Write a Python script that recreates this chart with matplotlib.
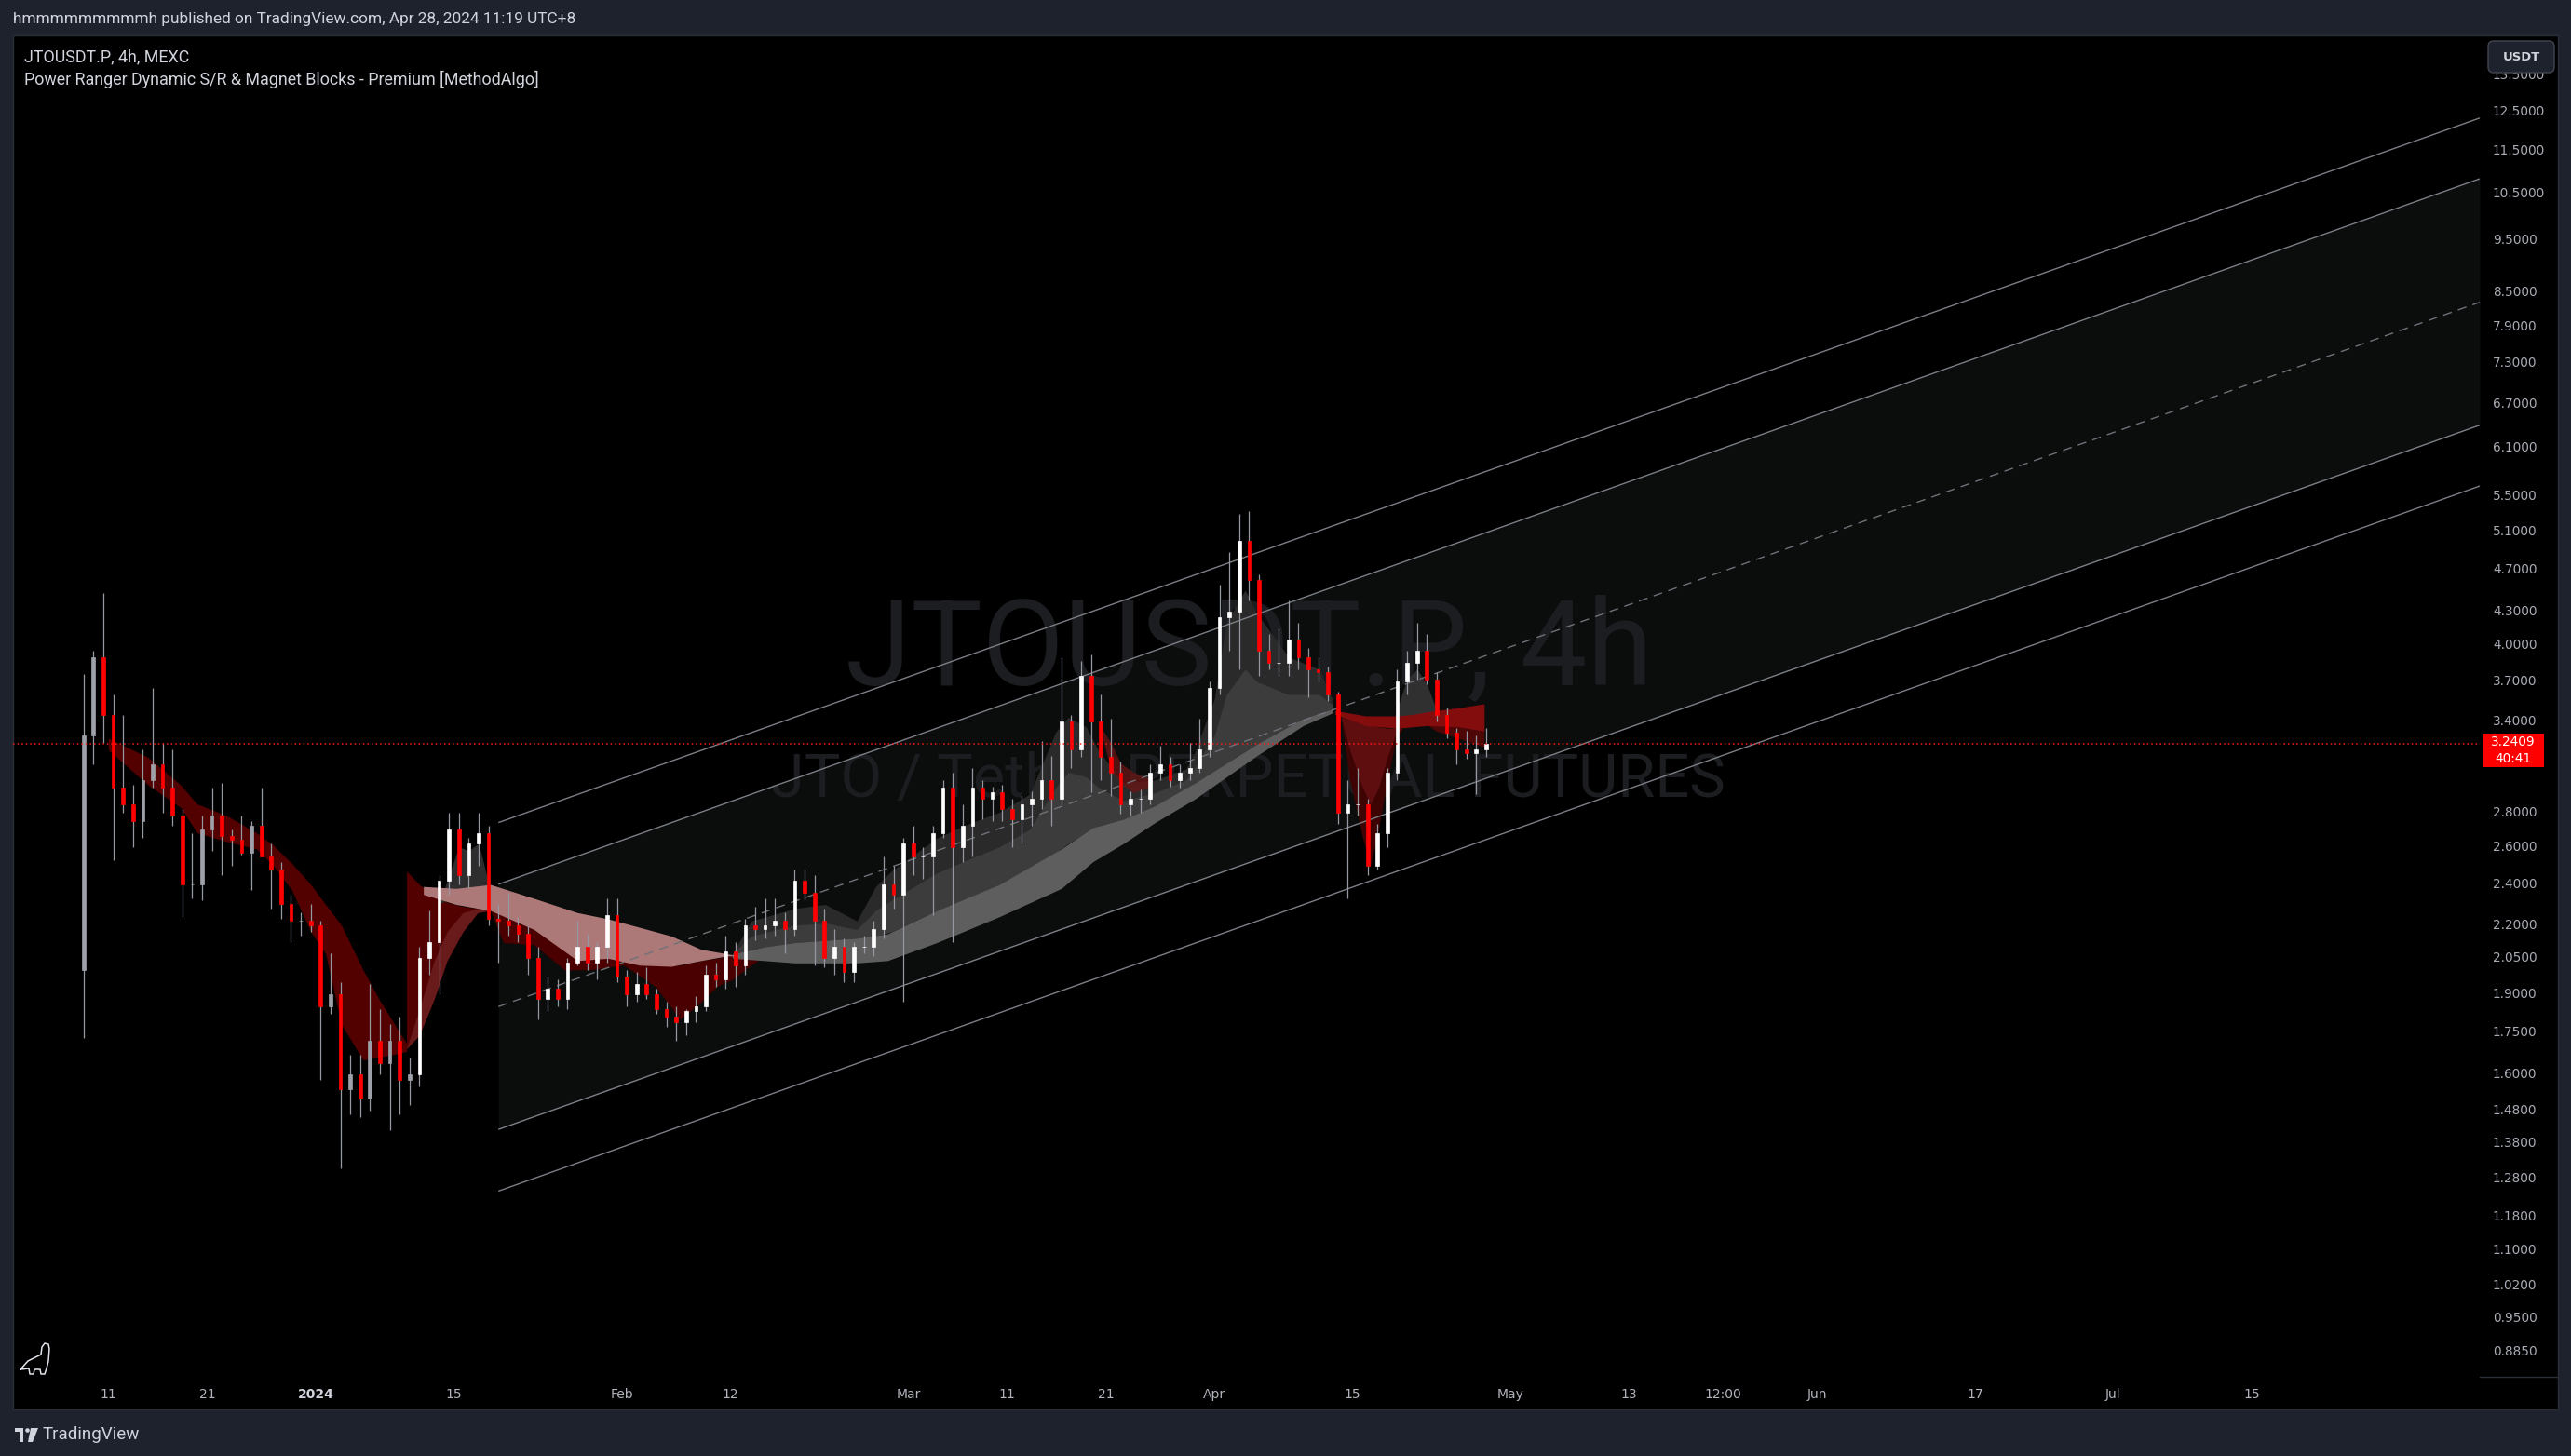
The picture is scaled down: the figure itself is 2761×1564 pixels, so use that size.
import numpy as np
import pandas as pd
import matplotlib
matplotlib.use("Agg")
import matplotlib.pyplot as plt
import matplotlib.transforms as mtransforms
from matplotlib.patches import Rectangle, FancyBboxPatch, Circle, Polygon
from matplotlib.lines import Line2D

W, H = 2761, 1564
BASE = pd.Timestamp("2024-01-01")

# ---- daily candles, first day 2023-12-08 ----
start_date = "2023-12-08"
opens = [2.00, 3.30, 3.90, 3.45, 2.95, 2.85, 2.75,
         3.00, 3.10, 2.95, 2.78, 2.40, 2.40, 2.70,
         2.78, 2.66, 2.64, 2.57, 2.72, 2.55, 2.48,
         2.30, 2.22, 2.22, 2.20, 1.85, 1.90, 1.55,
         1.60, 1.52, 1.72, 1.64, 1.72, 1.58, 1.60,
         2.05, 2.12, 2.42, 2.70, 2.45, 2.62, 2.68,
         2.23, 2.22, 2.20, 2.16, 2.05, 1.88, 1.92,
         1.88, 2.03, 2.10, 2.03, 2.10, 2.25, 1.97,
         1.90, 1.94, 1.90, 1.84, 1.81, 1.79, 1.83,
         1.85, 1.98, 1.96, 2.08, 2.02, 2.20, 2.18,
         2.20, 2.22, 2.18, 2.42, 2.36, 2.22, 2.05,
         2.10, 1.99, 2.10, 2.10, 2.18, 2.40, 2.35,
         2.62, 2.55, 2.55, 2.68, 2.95, 2.60, 2.72,
         2.95, 2.88, 2.92, 2.82, 2.76, 2.85, 2.88,
         3.00, 2.88, 3.40, 3.20, 3.75, 3.40, 3.15,
         3.05, 2.85, 2.88, 2.88, 3.05, 3.10, 3.00,
         3.05, 3.08, 3.20, 3.65, 4.25, 4.30, 5.00,
         4.60, 3.95, 3.85, 3.85, 4.05, 3.90, 3.80,
         3.78, 3.60, 2.80, 2.85, 2.85, 2.50, 2.68,
         3.05, 3.70, 3.85, 3.95, 3.72, 3.45, 3.32,
         3.20, 3.18, 3.20]
highs = [3.76, 3.95, 4.47, 3.60, 3.45, 2.97, 3.20,
         3.65, 3.25, 3.20, 2.82, 2.68, 2.78, 2.95,
         2.98, 2.70, 2.78, 2.75, 2.95, 2.62, 2.52,
         2.35, 2.26, 2.30, 2.22, 2.07, 1.95, 1.67,
         1.67, 1.94, 1.84, 1.78, 1.81, 1.66, 2.10,
         2.27, 2.45, 2.80, 2.80, 2.65, 2.80, 2.72,
         2.30, 2.36, 2.24, 2.20, 2.10, 1.97, 1.96,
         2.05, 2.22, 2.16, 2.12, 2.33, 2.33, 2.00,
         1.99, 2.01, 1.92, 1.87, 1.85, 1.84, 1.89,
         2.02, 2.03, 2.15, 2.12, 2.23, 2.29, 2.33,
         2.33, 2.26, 2.48, 2.48, 2.45, 2.28, 2.18,
         2.14, 2.12, 2.15, 2.22, 2.55, 2.50, 2.65,
         2.72, 2.60, 2.72, 3.00, 3.05, 2.85, 3.08,
         3.00, 2.96, 2.97, 2.88, 2.90, 2.93, 3.26,
         3.16, 3.90, 3.45, 3.87, 3.92, 3.60, 3.42,
         3.12, 2.93, 2.94, 3.10, 3.23, 3.15, 3.10,
         3.25, 3.42, 3.70, 4.55, 4.88, 5.30, 5.33,
         4.65, 4.10, 4.15, 4.40, 4.20, 3.98, 3.90,
         3.82, 3.62, 3.00, 3.08, 2.88, 2.73, 3.08,
         3.80, 3.95, 4.20, 4.10, 3.78, 3.50, 3.35,
         3.33, 3.30, 3.35]
lows = [1.73, 3.10, 3.25, 2.53, 2.80, 2.60, 2.65,
        2.95, 2.80, 2.72, 2.24, 2.33, 2.32, 2.58,
        2.45, 2.50, 2.56, 2.37, 2.56, 2.28, 2.23,
        2.12, 2.15, 2.17, 1.58, 1.82, 1.31, 1.47,
        1.46, 1.48, 1.60, 1.42, 1.47, 1.50, 1.56,
        1.98, 1.90, 2.35, 2.40, 2.38, 2.50, 2.20,
        2.03, 2.15, 2.12, 1.98, 1.80, 1.83, 1.85,
        1.84, 2.02, 2.00, 1.96, 2.03, 1.95, 1.85,
        1.87, 1.88, 1.82, 1.77, 1.72, 1.74, 1.79,
        1.83, 1.93, 1.92, 1.93, 1.98, 2.13, 2.14,
        2.15, 2.07, 2.15, 2.32, 2.02, 2.01, 1.98,
        1.95, 1.95, 2.07, 2.06, 2.14, 2.28, 1.87,
        2.45, 2.43, 2.25, 2.65, 2.12, 2.52, 2.55,
        2.76, 2.75, 2.75, 2.60, 2.62, 2.72, 2.82,
        2.72, 2.85, 3.08, 3.15, 2.92, 3.00, 2.90,
        2.79, 2.78, 2.80, 2.85, 3.00, 2.96, 2.95,
        3.00, 3.05, 3.15, 3.60, 3.95, 3.80, 4.40,
        3.75, 3.80, 3.75, 3.75, 3.80, 3.58, 3.70,
        3.55, 2.73, 2.33, 2.78, 2.45, 2.48, 2.60,
        3.00, 3.60, 3.72, 3.68, 3.40, 3.28, 3.10,
        3.14, 2.91, 3.15]
closes = [3.30, 3.90, 3.45, 2.95, 2.85, 2.75, 3.00,
          3.10, 2.95, 2.78, 2.40, 2.40, 2.70, 2.78,
          2.66, 2.64, 2.57, 2.72, 2.55, 2.48, 2.30,
          2.22, 2.22, 2.20, 1.85, 1.90, 1.55, 1.60,
          1.52, 1.72, 1.64, 1.72, 1.58, 1.60, 2.05,
          2.12, 2.42, 2.70, 2.45, 2.62, 2.68, 2.23,
          2.22, 2.20, 2.16, 2.05, 1.88, 1.92, 1.88,
          2.03, 2.10, 2.03, 2.10, 2.25, 1.97, 1.90,
          1.94, 1.90, 1.84, 1.81, 1.79, 1.83, 1.85,
          1.98, 1.96, 2.08, 2.02, 2.20, 2.18, 2.20,
          2.22, 2.18, 2.42, 2.36, 2.22, 2.05, 2.10,
          1.99, 2.10, 2.10, 2.18, 2.40, 2.35, 2.62,
          2.55, 2.55, 2.68, 2.95, 2.60, 2.72, 2.95,
          2.88, 2.92, 2.82, 2.76, 2.85, 2.88, 3.00,
          2.88, 3.40, 3.20, 3.75, 3.40, 3.15, 3.05,
          2.85, 2.88, 2.88, 3.05, 3.10, 3.00, 3.05,
          3.08, 3.20, 3.65, 4.25, 4.30, 5.00, 4.60,
          3.95, 3.85, 3.85, 4.05, 3.90, 3.80, 3.78,
          3.60, 2.80, 2.85, 2.85, 2.50, 2.68, 3.05,
          3.70, 3.85, 3.95, 3.72, 3.45, 3.32, 3.20,
          3.18, 3.20, 3.2409]
last_price = 3.2409
countdown = "40:41"
bright_from = 9.5  # up candles drawn white from Jan 10 on, grey before

# time axis
time_dates = ["2023-12-11", "2023-12-21", "2024-01-01", "2024-01-15", "2024-02-01",
              "2024-02-12", "2024-03-01", "2024-03-11", "2024-03-21", "2024-04-01",
              "2024-04-15", "2024-05-01", "2024-05-13", "2024-05-22 12:00", "2024-06-01",
              "2024-06-17", "2024-07-01", "2024-07-15"]
time_labels = ["11", "21", "2024", "15", "Feb", "12", "Mar", "11", "21", "Apr",
               "15", "May", "13", "12:00", "Jun", "17", "Jul", "15"]

# price axis (3.1000 sits under the red price tag, so it is left out)
price_ticks = [0.885, 0.95, 1.02, 1.10, 1.18, 1.28, 1.38, 1.48, 1.60, 1.75, 1.90,
               2.05, 2.20, 2.40, 2.60, 2.80, 3.40, 3.70, 4.00, 4.30, 4.70,
               5.10, 5.50, 6.10, 6.70, 7.30, 7.90, 8.50, 9.50, 10.50, 11.50, 12.50, 13.50]

# regression channel (straight in log space), days from 2024-01-01
chan_x = [18.5, 219.1]
chan_top = [2.739, 12.33]
chan_upper = [2.401, 10.83]
chan_mid = [1.849, 8.32]
chan_lower = [1.4225, 6.40]
chan_bottom = [1.247, 5.62]

# magnet ribbons (days from 2024-01-01, upper / lower price)
ribA_x = [-21, -17, -13.7, -12, -9, -6, -4.3, -2.4, -0.5, 1, 2.6, 4.8, 6.4, 8, 9.2]
ribA_hi = [3.28, 3.15, 2.97, 2.85, 2.78, 2.68, 2.61, 2.51, 2.40, 2.30, 2.20, 2.00, 1.88, 1.78, 1.71]
ribA_lo = [3.20, 2.97, 2.83, 2.68, 2.63, 2.59, 2.50, 2.37, 2.17, 2.07, 1.78, 1.65, 1.66, 1.67, 1.68]

ribB_x = [9.2, 10.5, 12.0, 13.3, 14.9, 16.4, 17.7]
ribB_hi = [2.47, 2.40, 2.34, 2.31, 2.29, 2.28, 2.27]
ribB_lo = [1.69, 1.74, 1.88, 2.04, 2.17, 2.26, 2.27]
ribB_in = [1.69, 1.84, 2.04, 2.17, 2.26, 2.28, 2.27]

pink_x = [10.9, 14.2, 17.7, 22.1, 26.5, 29.6, 32.8, 36.0, 39.0, 41.6, 43.0]
pink_hi = [2.39, 2.38, 2.40, 2.33, 2.26, 2.23, 2.19, 2.15, 2.09, 2.07, 2.06]
pink_lo = [2.35, 2.30, 2.27, 2.18, 2.04, 2.05, 2.02, 2.015, 2.04, 2.06, 2.06]

ribC_x = [17.7, 19, 22.1, 25.2, 27.8, 31.2, 34.4, 36.9, 39.1, 40.6, 42.2, 44.1, 46.3]
ribC_hi = [2.27, 2.25, 2.18, 2.10, 2.05, 2.05, 2.02, 2.02, 2.04, 2.05, 2.06, 2.07, 2.09]
ribC_lo = [2.27, 2.12, 2.11, 2.00, 2.00, 2.02, 1.93, 1.80, 1.87, 1.93, 1.96, 2.02, 2.09]

greyJ_x = [12.5, 13.5, 14.5, 15.5, 16.5, 17.3, 17.7]
greyJ_hi = [2.30, 2.45, 2.60, 2.58, 2.62, 2.45, 2.30]
greyJ_lo = [2.30, 2.33, 2.32, 2.30, 2.29, 2.28, 2.28]

grey_x = [42.2, 45.4, 48.5, 51.6, 54.8, 57.9, 62.9, 69.2, 75.5, 78.7, 81.8, 85.0, 89.0, 95.3, 100.0, 102.9]
grey_hi = [2.07, 2.10, 2.12, 2.13, 2.14, 2.16, 2.27, 2.40, 2.59, 2.71, 2.76, 2.84, 2.98, 3.24, 3.42, 3.49]
grey_lo = [2.05, 2.04, 2.03, 2.03, 2.03, 2.04, 2.12, 2.24, 2.38, 2.52, 2.62, 2.74, 2.88, 3.16, 3.37, 3.46]

dg_x = [42.2, 44.1, 48.5, 51.6, 54.8, 56.7, 58.3, 62.9, 66.0, 69.2, 72.3, 74.9, 76.2,
        78.0, 79.3, 81.8, 85.0, 88.1, 89.0, 91.0, 92.2, 94.1, 95.3, 98.5, 101.6, 103.0]
dg_hi = [2.07, 2.22, 2.28, 2.30, 2.22, 2.39, 2.47, 2.65, 2.73, 2.80, 2.91, 3.32, 3.43,
         3.36, 3.19, 2.98, 3.00, 3.07, 3.18, 3.57, 4.20, 4.50, 4.28, 3.90, 3.80, 3.55]
dg_mid = [2.07, 2.15, 2.20, 2.21, 2.18, 2.27, 2.32, 2.46, 2.53, 2.60, 2.70, 2.95, 3.05,
          3.02, 2.95, 2.87, 2.92, 3.00, 3.08, 3.30, 3.60, 3.80, 3.70, 3.60, 3.60, 3.52]
dg_lo = [2.07, 2.09, 2.12, 2.13, 2.14, 2.15, 2.17, 2.27, 2.33, 2.40, 2.49, 2.57, 2.62,
         2.68, 2.72, 2.76, 2.84, 2.94, 2.98, 3.06, 3.11, 3.19, 3.24, 3.36, 3.45, 3.49]

redE_x = [79.3, 80.5, 81.5, 82.8, 84.3]
redE_hi = [3.38, 3.25, 3.11, 3.05, 3.01]
redE_lo = [3.38, 3.07, 2.98, 2.92, 2.95]

band_x = [103.2, 106.3, 109.5, 111.0, 112.6, 115.7, 118.3]
band_hi = [3.48, 3.44, 3.44, 3.45, 3.47, 3.50, 3.53]
band_lo = [3.45, 3.37, 3.35, 3.36, 3.37, 3.36, 3.33]

vee_x = [103.8, 104.7, 106.0, 106.8, 107.6, 108.5, 109.3, 110.0]
vee_hi = [3.43, 3.41, 3.38, 3.37, 3.36, 3.35, 3.35, 3.35]
vee_lo = [3.43, 3.00, 2.65, 2.50, 2.70, 3.00, 3.25, 3.35]
vee_in = [3.43, 3.20, 2.95, 2.85, 2.95, 3.15, 3.30, 3.35]

tail_x = [112.6, 113.5, 115.7, 118.3]
tail_hi = [3.37, 3.37, 3.36, 3.33]
tail_lo = [3.37, 3.33, 3.28, 3.22]

greyA_x = [109.3, 110.5, 111.5, 112.5, 113.5]
greyA_hi = [3.45, 3.72, 3.80, 3.68, 3.48]
greyA_lo = [3.44, 3.44, 3.45, 3.46, 3.47]

# ---------------- figure ----------------
fig = plt.figure(figsize=(W / 100, H / 100), dpi=100)
fig.patch.set_facecolor("#1e222d")
px = mtransforms.Affine2D().scale(1 / W, -1 / H).translate(0, 1) + fig.transFigure
renderer = fig.canvas.get_renderer()


def fit(txt, width):
    bb = txt.get_window_extent(renderer=renderer)
    txt.set_fontsize(txt.get_fontsize() * width / bb.width)
    return txt.get_fontsize()


fig.add_artist(Rectangle((14, 38), 2733, 1476, transform=px, facecolor="#000000",
                         edgecolor="#2a2e39", lw=1, zorder=-5))
fig.add_artist(Line2D([2663, 2747], [1479, 1479], transform=px, color="#2a2e39", lw=1))

ax = fig.add_axes([14 / W, 1 - 1480 / H, 2649 / W, 1442 / H])
ax.set_yscale("log")
ax.set_xlim(-30.64, 219.1)
ax.set_ylim(0.837, 14.71)
ax.axis("off")

# channel
ax.fill_between(chan_x, chan_lower, chan_upper, color="#0b0c0c", lw=0, zorder=1)
for vals in (chan_top, chan_upper, chan_lower, chan_bottom):
    ax.plot(chan_x, vals, color="#7c7f86", lw=1.0, zorder=3, solid_capstyle="butt")
ax.plot(chan_x, chan_mid, color="#6f7178", lw=1.0, ls=(0, (7, 5)), zorder=3)

# watermark
wm1 = ax.text(1341 / W, 1 - 701 / H, "JTOUSDT.P, 4h", transform=fig.transFigure,
              ha="center", va="center", color="#1c1d20", fontsize=100,
              family="Roboto", zorder=1.5)
fit(wm1, 868)
wm2 = ax.text(1340 / W, 1 - 838 / H, "JTO / Tether PERPETUAL FUTURES", transform=fig.transFigure,
              ha="center", va="center", color="#1c1d20", fontsize=50,
              family="Roboto", zorder=1.5)
fit(wm2, 1025)

# ribbons
ax.fill_between(ribA_x, ribA_lo, ribA_hi, color="#520000", lw=0, zorder=2)
ax.fill_between(ribB_x, ribB_lo, ribB_hi, color="#520000", lw=0, zorder=2)
ax.fill_between(ribB_x, ribB_lo, ribB_in, color="#6e1f1f", alpha=0.85, lw=0, zorder=2.1)
ax.fill_between(ribC_x, ribC_lo, ribC_hi, color="#4a0000", lw=0, zorder=2)
ax.fill_between(greyJ_x, greyJ_lo, greyJ_hi, color="#2e2e2e", lw=0, zorder=2)
ax.fill_between(pink_x, pink_lo, pink_hi, color="#ad7878", lw=0, zorder=2.3)
ax.fill_between(dg_x, dg_lo, dg_hi, color="#2a2a2a", lw=0, zorder=2)
ax.fill_between(dg_x, dg_lo, dg_mid, color="#3c3c3c", lw=0, zorder=2.1)
ax.fill_between(grey_x, grey_lo, grey_hi, color="#5e5e5e", lw=0, zorder=2.2)
ax.fill_between(redE_x, redE_lo, redE_hi, color="#6b1515", alpha=0.75, lw=0, zorder=2.3)
ax.fill_between(greyA_x, greyA_lo, greyA_hi, color="#303030", lw=0, zorder=2)
ax.fill_between(vee_x, vee_lo, vee_hi, color="#3e0404", lw=0, zorder=2)
ax.fill_between(vee_x, vee_in, vee_hi, color="#5e0e0e", lw=0, zorder=2.1)
ax.fill_between(tail_x, tail_lo, tail_hi, color="#4e0707", lw=0, zorder=2)
ax.fill_between(band_x, band_lo, band_hi, color="#8e0d0d", alpha=0.92, lw=0, zorder=2.3)

# candles
o = np.array(opens)
hi = np.array(highs)
lo = np.array(lows)
c = np.array(closes)
d0 = (pd.Timestamp(start_date) - BASE).days
xc = np.arange(len(o)) + d0 + 0.5
up = c >= o
body_colors = ["#ff0000" if not u else ("#ffffff" if x > bright_from else "#9ea1a9")
               for u, x in zip(up, xc)]
ax.vlines(xc, lo, hi, color="#9598a1", lw=0.9, zorder=5)
ax.bar(xc, np.maximum(o, c) - np.minimum(o, c), bottom=np.minimum(o, c), width=0.35,
       color=body_colors, edgecolor=body_colors, lw=0.5, zorder=6)

# last price line
ax.axhline(last_price, color="#ff1a1a", lw=1.1, ls=(0, (1, 2)), zorder=7)

# price labels
ylab = mtransforms.blended_transform_factory(px, ax.transData)
probe = fig.text(0, 0, "12.5000", family="DejaVu Sans", fontsize=10)
fs_price = fit(probe, 56)
probe.remove()
for p in price_ticks:
    fig.text(2677, p, f"{p:.4f}", transform=ylab, ha="left", va="center",
             color="#a9acb5", fontsize=fs_price, family="DejaVu Sans", zorder=3)

# time labels
xlab = mtransforms.blended_transform_factory(ax.transData, px)
probe = fig.text(0, 0, "2024", family="DejaVu Sans", fontsize=10, weight="bold")
fs_time = fit(probe, 39)
probe.remove()
for dstr, lab in zip(time_dates, time_labels):
    xd = (pd.Timestamp(dstr) - BASE) / pd.Timedelta(days=1)
    bold = lab == "2024"
    fig.text(xd, 1498, lab, transform=xlab, ha="center", va="center",
             color="#d1d4dc" if bold else "#b2b5be", fontsize=fs_time,
             weight="bold" if bold else "normal", family="DejaVu Sans")

# USDT button
fig.add_artist(FancyBboxPatch((2672, 44), 71, 34, boxstyle="round,pad=0,rounding_size=6",
                              transform=px, facecolor="#1e222d", edgecolor="#434651",
                              lw=1, zorder=4))
t = fig.text(2707.5, 61.5, "USDT", transform=px, ha="center", va="center", color="#d1d4dc",
             fontsize=10, weight="bold", family="DejaVu Sans", zorder=5)
fit(t, 40)

# red last-price label
fig.add_artist(Rectangle((2666, 788), 66, 36, transform=px, facecolor="#ff0000",
                         edgecolor="none", zorder=4))
fig.text(2699, 797, f"{last_price:.4f}", transform=px, ha="center", va="center",
         color="#ffffff", fontsize=fs_price, family="DejaVu Sans", zorder=5)
fig.text(2699, 815, countdown, transform=px, ha="center", va="center",
         color="#ffffff", fontsize=fs_price, family="DejaVu Sans", zorder=5)

# header / legend text
t = fig.text(14, 21, "hmmmmmmmmmh published on TradingView.com, Apr 28, 2024 11:19 UTC+8",
             transform=px, ha="left", va="center", color="#d1d4dc", fontsize=12, family="Roboto")
fit(t, 601)
t = fig.text(25.5, 61, "JTOUSDT.P, 4h, MEXC", transform=px, ha="left", va="center",
             color="#d1d4dc", fontsize=12, family="Roboto")
fit(t, 176)
t = fig.text(25.5, 85, "Power Ranger Dynamic S/R & Magnet Blocks - Premium [MethodAlgo]",
             transform=px, ha="left", va="center", color="#d1d4dc", fontsize=12, family="Roboto")
fit(t, 551)

# footer logo
fig.add_artist(Rectangle((16, 1534), 9, 4, transform=px, facecolor="#d1d4dc", edgecolor="none"))
fig.add_artist(Rectangle((21, 1534), 4, 15, transform=px, facecolor="#d1d4dc", edgecolor="none"))
fig.add_artist(Circle((29.5, 1536.5), 2.3, transform=px, facecolor="#d1d4dc", edgecolor="none"))
fig.add_artist(Polygon([(33, 1534), (41, 1534), (35, 1549), (30, 1549)], closed=True,
                       transform=px, facecolor="#d1d4dc", edgecolor="none"))
t = fig.text(46, 1541, "TradingView", transform=px, ha="left", va="center",
             color="#d1d4dc", fontsize=12, family="Roboto")
fit(t, 104)

# dino icon
dino_x = [22, 30, 38, 44, 45, 48, 52, 53, 52, 50, 48, 44, 43, 37, 36, 32, 31, 22]
dino_y = [1471, 1462, 1458, 1455, 1447, 1443, 1444, 1449, 1462, 1470, 1476, 1476,
          1471, 1471, 1476, 1476, 1470, 1471]
fig.add_artist(Line2D(dino_x, dino_y, transform=px, color="#e0e3eb", lw=1.1))

fig.savefig("out.png", dpi=100, facecolor=fig.get_facecolor())
